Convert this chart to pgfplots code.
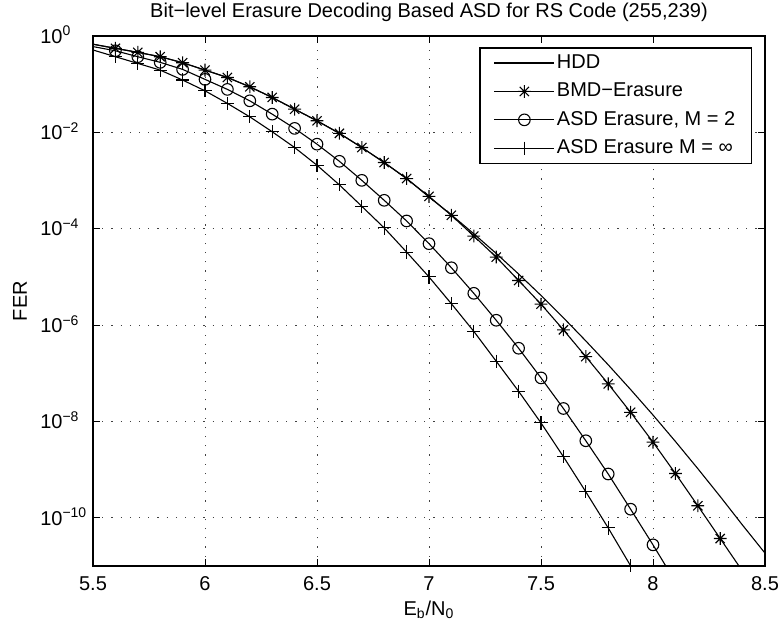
\documentclass[border=0pt]{standalone}
\usepackage{fontspec}
\setmainfont{Liberation Sans}
\usepackage{pgfplots}
\pgfplotsset{compat=1.18}
\pgfdeclareplotmark{mstar}{%
  \pgfpathmoveto{\pgfqpoint{-\pgfplotmarksize}{0pt}}\pgfpathlineto{\pgfqpoint{\pgfplotmarksize}{0pt}}%
  \pgfpathmoveto{\pgfqpoint{0pt}{-\pgfplotmarksize}}\pgfpathlineto{\pgfqpoint{0pt}{\pgfplotmarksize}}%
  \pgfpathmoveto{\pgfqpoint{-0.72\pgfplotmarksize}{-0.72\pgfplotmarksize}}\pgfpathlineto{\pgfqpoint{0.72\pgfplotmarksize}{0.72\pgfplotmarksize}}%
  \pgfpathmoveto{\pgfqpoint{-0.72\pgfplotmarksize}{0.72\pgfplotmarksize}}\pgfpathlineto{\pgfqpoint{0.72\pgfplotmarksize}{-0.72\pgfplotmarksize}}%
  \pgfusepathqstroke}
\begin{document}
\begin{tikzpicture}
\useasboundingbox (0,0) rectangle (390pt,314.5pt);
\begin{axis}[
  at={(46.5pt,31.5pt)}, anchor=south west,
  width=336pt, height=265pt, scale only axis,
  ymode=log,
  xmin=5.5, xmax=8.5, ymin=1e-11, ymax=1,
  xtick={5.5,6,6.5,7,7.5,8,8.5},
  xticklabels={5.5,6,6.5,7,7.5,8,8.5},
  ytick={1e-10,1e-8,1e-6,1e-4,1e-2,1},
  yticklabels={10\rlap{\textsuperscript{−10}},10\rlap{\textsuperscript{−8}},10\rlap{\textsuperscript{−6}},10\rlap{\textsuperscript{−4}},10\rlap{\textsuperscript{−2}},10\rlap{\textsuperscript{0}}},
  yminorticks=false, xminorticks=false,
  tick align=inside, tick pos=both,
  major tick length=3.5pt,
  every tick/.style={black, line width=0.5pt},
  xticklabel style={anchor=base, yshift=-12pt},
  yticklabel style={anchor=base east, yshift=-3.6pt, xshift=-11.7pt},
  grid=major,
  major grid style={black!75, line width=0.5pt, dash pattern=on 0.6pt off 4pt},
  axis line style={line width=0.9pt},
  clip mode=individual,
  every axis title shift=0pt,
  title={Bit−level Erasure Decoding Based ASD for RS Code (255,239)},
  title style={at={(axis description cs:0.5,1)}, anchor=base, yshift=9.5pt},
  xlabel={E\textsubscript{b}/N\textsubscript{0}},
  xlabel style={at={(axis description cs:0.5,0)}, anchor=base, yshift=-24.5pt},
  ylabel={FER},
  ylabel style={at={(axis description cs:-0.1086,0.5)}, anchor=center},
  legend cell align=left,
  legend style={at={(axis description cs:0.9807,0.979)}, anchor=north east,
    draw=black, line width=0.7pt, fill=white, inner xsep=7pt, inner ysep=2pt,
    row sep=3pt,
    nodes={inner sep=1pt, text height=7.2pt, text depth=2pt}},
  legend image code/.code={\draw[mark repeat=2,mark phase=2,#1,line width=0.55pt] plot coordinates {(0pt,0pt) (15pt,0pt) (30pt,0pt)};},
  every axis plot/.append style={black, line width=0.55pt},
]
% HDD
\addplot[mark=none] coordinates {
(5.5,6.76e-1)(5.6,5.55e-1)(5.7,4.58e-1)(5.8,3.72e-1)(5.9,2.79e-1)(6.0,1.96e-1)(6.1,1.38e-1)(6.2,8.83e-2)(6.3,5.30e-2)(6.4,3.03e-2)(6.5,1.74e-2)(6.6,9.55e-3)(6.7,4.85e-3)(6.8,2.37e-3)(6.9,1.10e-3)
(7.0,4.56e-4)(7.1,1.94e-4)(7.2,7.87e-5)(7.3,3.07e-5)(7.4,1.15e-5)(7.5,4.13e-6)(7.6,1.42e-6)(7.7,4.70e-7)(7.8,1.50e-7)(7.9,4.60e-8)(8.0,1.36e-8)(8.1,3.85e-9)(8.2,1.05e-9)(8.3,2.77e-10)(8.4,7.03e-11)(8.5,1.85e-11)};
\addlegendentry{HDD}
% BMD-Erasure
\addplot[mark=mstar, mark size=3.2pt, mark options={solid}] coordinates {
(5.6,5.55e-1)(5.7,4.58e-1)(5.8,3.72e-1)(5.9,2.79e-1)(6.0,1.96e-1)(6.1,1.38e-1)(6.2,8.83e-2)(6.3,5.30e-2)(6.4,3.03e-2)(6.5,1.74e-2)(6.6,9.55e-3)(6.7,4.85e-3)(6.8,2.37e-3)(6.9,1.10e-3)(7.0,4.68e-4)(7.1,1.90e-4)(7.2,7.05e-5)(7.3,2.58e-5)(7.4,8.45e-6)(7.5,2.72e-6)(7.6,7.98e-7)(7.7,2.22e-7)(7.8,6.03e-8)(7.9,1.55e-8)(8.0,3.72e-9)(8.1,8.32e-10)(8.2,1.78e-10)(8.3,3.72e-11)};
\addlegendentry{BMD−Erasure}
% ASD M=2
\addplot[mark=o, mark size=2.9pt] coordinates {
(5.6,4.94e-1)(5.7,3.72e-1)(5.8,2.84e-1)(5.9,2.03e-1)(6.0,1.26e-1)(6.1,7.80e-2)(6.2,4.52e-2)(6.3,2.39e-2)(6.4,1.21e-2)(6.5,5.69e-3)(6.6,2.51e-3)(6.7,1.01e-3)(6.8,3.89e-4)(6.9,1.45e-4)(7.0,4.90e-5)(7.1,1.55e-5)(7.2,4.57e-6)(7.3,1.26e-6)(7.4,3.31e-7)(7.5,8.02e-8)(7.6,1.86e-8)(7.7,3.98e-9)(7.8,8.13e-10)(7.9,1.51e-10)(8.0,2.75e-11)};
\addlegendentry{ASD Erasure, M = 2}
% ASD M=inf
\addplot[mark=+, mark size=3.3pt] coordinates {
(5.6,3.72e-1)(5.7,2.70e-1)(5.8,1.96e-1)(5.9,1.22e-1)(6.0,7.29e-2)(6.1,3.99e-2)(6.2,2.10e-2)(6.3,1.03e-2)(6.4,4.85e-3)(6.5,2.08e-3)(6.6,8.13e-4)(6.7,2.92e-4)(6.8,1.04e-4)(6.9,3.28e-5)(7.0,1.00e-5)(7.1,2.77e-6)(7.2,7.41e-7)(7.3,1.78e-7)(7.4,4.23e-8)(7.5,9.33e-9)(7.6,1.86e-9)(7.7,3.47e-10)(7.8,6.17e-11)(7.9,1.01e-11)};
\addlegendentry{ASD Erasure M = ∞}
% line extensions beyond the marked points
\addplot[mark=none, forget plot] coordinates {(5.5,6.76e-1)(5.6,5.55e-1)};
\addplot[mark=none, forget plot] coordinates {(8.3,3.72e-11)(8.4,7.76e-12)};
\addplot[mark=none, forget plot] coordinates {(5.5,6.03e-1)(5.6,4.94e-1)};
\addplot[mark=none, forget plot] coordinates {(8.0,2.75e-11)(8.1,4.68e-12)};
\addplot[mark=none, forget plot] coordinates {(5.5,5.13e-1)(5.6,3.72e-1)};
\addplot[mark=none, forget plot] coordinates {(7.9,1.01e-11)(8.0,1.58e-12)};
\end{axis}
\end{tikzpicture}
\end{document}
